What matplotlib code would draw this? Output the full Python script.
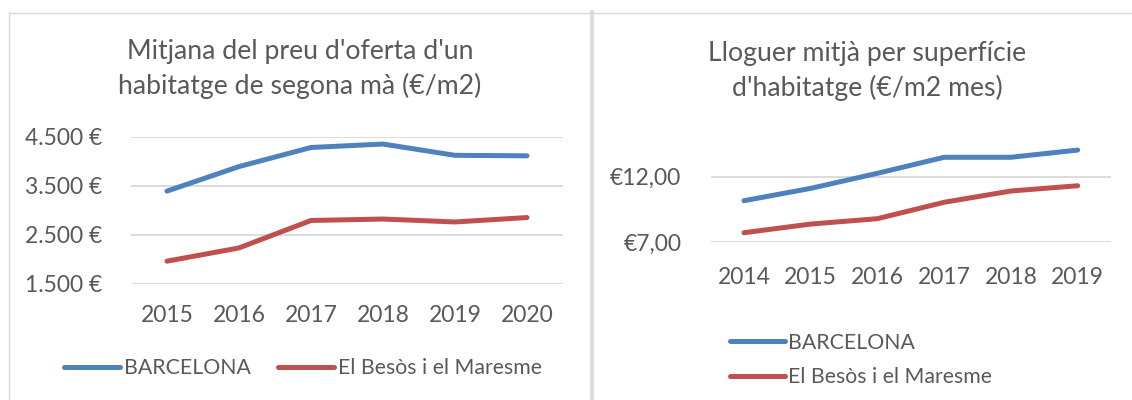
import matplotlib.pyplot as plt
from matplotlib.lines import Line2D

# data
years_venda = ["2015", "2016", "2017", "2018", "2019", "2020"]
bcn_venda = [3390, 3890, 4280, 4350, 4120, 4110]
besos_venda = [1960, 2230, 2790, 2820, 2760, 2850]

years_lloguer = ["2014", "2015", "2016", "2017", "2018", "2019"]
bcn_lloguer = [10.17, 11.11, 12.26, 13.48, 13.48, 14.03]
besos_lloguer = [7.73, 8.39, 8.80, 10.05, 10.91, 11.31]

noms = ["BARCELONA", "El Besòs i el Maresme"]
titol_venda = "Mitjana del preu d'oferta d'un\nhabitatge de segona mà (€/m2)"
titol_lloguer = "Lloguer mitjà per superfície\nd'habitatge (€/m2 mes)"

BLUE = "#4F81BD"
RED = "#C0504D"
TXT = "#595959"
GRID = "#D9D9D9"

plt.rcParams["font.family"] = ["Lato", "DejaVu Sans"]

W, H = 1132, 400
fig = plt.figure(figsize=(W / 100, H / 100), dpi=100)


def px_axes(x0, y0, x1, y1):
    return fig.add_axes([x0 / W, 1 - y1 / H, (x1 - x0) / W, (y1 - y0) / H])


def style(ax, ylab_pad, xlab_pad):
    for s in ax.spines.values():
        s.set_visible(False)
    ax.grid(axis="y", color=GRID, linewidth=1.3)
    ax.set_axisbelow(True)
    ax.tick_params(length=0, labelsize=16.5, labelcolor=TXT)
    ax.tick_params(axis="y", pad=ylab_pad)
    ax.tick_params(axis="x", pad=xlab_pad)


# left chart
ax1 = px_axes(131, 136.7, 563, 283.7)
x1 = range(len(years_venda))
ax1.plot(x1, bcn_venda, color=BLUE, lw=3.6, solid_capstyle="round", solid_joinstyle="round")
ax1.plot(x1, besos_venda, color=RED, lw=3.6, solid_capstyle="round", solid_joinstyle="round")
ax1.set_xlim(-0.5, len(years_venda) - 0.5)
ax1.set_ylim(1500, 4500)
ax1.set_yticks([1500, 2500, 3500, 4500])
ax1.set_yticklabels([f"{v:,.0f} €".replace(",", ".") for v in [1500, 2500, 3500, 4500]])
ax1.set_xticks(list(x1))
ax1.set_xticklabels(years_venda)
style(ax1, 20.5, 15.5)

# right chart
ax2 = px_axes(710.6, 111.1, 1111, 242.3)
x2 = range(len(years_lloguer))
ax2.plot(x2, bcn_lloguer, color=BLUE, lw=3.6, solid_capstyle="round", solid_joinstyle="round")
ax2.plot(x2, besos_lloguer, color=RED, lw=3.6, solid_capstyle="round", solid_joinstyle="round")
ax2.set_xlim(-0.5, len(years_lloguer) - 0.5)
ax2.set_ylim(7, 17)
ax2.set_yticks([7, 12])
ax2.set_yticklabels([f"€{v:.2f}".replace(".", ",") for v in [7, 12]])
ax2.set_xticks(list(x2))
ax2.set_xticklabels(years_lloguer)
style(ax2, 21, 17.5)

# titles
fig.text(300 / W, 1 - 69 / H, titol_venda, ha="center", va="center",
         fontsize=19.2, color=TXT, linespacing=1.42)
fig.text(867 / W, 1 - 71 / H, titol_lloguer, ha="center", va="center",
         fontsize=19.2, color=TXT, linespacing=1.42)

# legends
leg_handles = [Line2D([], [], color=BLUE, lw=3.6, solid_capstyle="round"),
               Line2D([], [], color=RED, lw=3.6, solid_capstyle="round")]
fig.legend(leg_handles, noms, loc="center", bbox_to_anchor=(303 / W, 1 - 368 / H),
           ncol=2, frameon=False, fontsize=15.3, labelcolor=TXT, borderpad=0,
           handlelength=2.6, handletextpad=0.2, columnspacing=1.3)
fig.legend(leg_handles, noms, loc="center left", bbox_to_anchor=(719 / W, 1 - 360 / H),
           ncol=1, frameon=False, fontsize=15.3, labelcolor=TXT, borderpad=0,
           handlelength=2.6, handletextpad=0.15, labelspacing=0.7)

# chart frames
def fline(xs, ys, lw):
    fig.add_artist(Line2D([x / W for x in xs], [1 - y / H for y in ys], color=GRID, lw=lw))

fline([8.5, 8.5], [12, 400], 1.0)
fline([8.5, 1132], [12.5, 12.5], 1.0)
fline([592, 592], [12, 400], 2.6)

fig.savefig("out.png", dpi=100)
